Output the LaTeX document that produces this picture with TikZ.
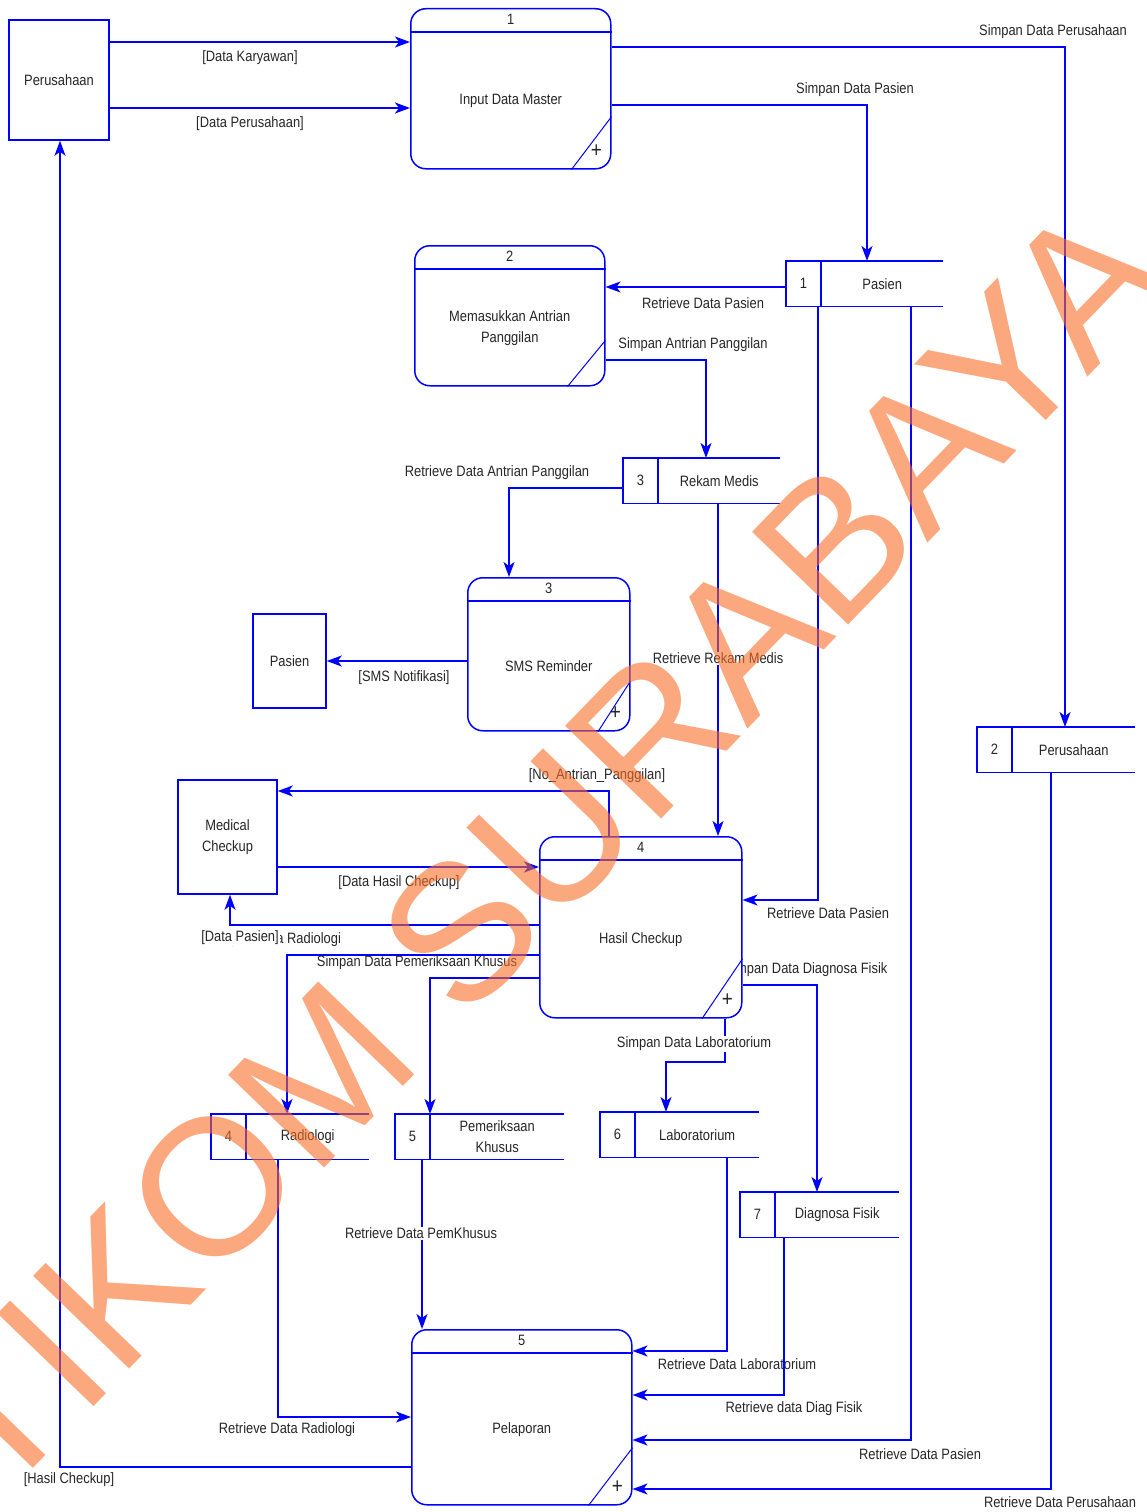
\documentclass[tikz,border=0pt]{standalone}
\usepackage{fontspec}
\setmainfont{Liberation Sans}[FakeStretch=0.86]
\newfontfamily\wmfont{Liberation Sans}
\usetikzlibrary{calc,arrows.meta,backgrounds}
\definecolor{wmorange}{RGB}{248,110,40}

\tikzset{
  dfdline/.style={draw=blue, line width=1.5pt},
  thinline/.style={draw=blue, line width=1pt},
  flow/.style={dfdline, -{Stealth[length=15pt,width=11pt,inset=4pt]}},
  entity/.style={dfdline, fill=white, inner sep=0pt, align=center},
  process/.style={dfdline, fill=white, rounded corners=15pt, inner sep=0pt, anchor=north west},
  store/.style={fill=white, inner sep=0pt, minimum height=45, anchor=north west},
  lbl/.style={inner sep=1pt},
  lblw/.style={fill=white, inner sep=1pt},
}

% name, north west corner, width, height, number, label
\newcommand{\dfdprocess}[6]{%
  \node[process, minimum width=#3, minimum height=#4] (#1) at (#2) {};
  \draw[dfdline] ([yshift=-24]#1.north west) -- ([yshift=-24]#1.north east);
  \node at ([yshift=-11]#1.north) {#5};
  \node[align=center] at ($([yshift=-24]#1.north)!0.5!(#1.south)$) {#6};
  \draw[thinline] ([xshift=-0.2*#3]#1.south east) -- ([yshift=0.33*#4]#1.south east);
}
\newcommand{\dfdplus}[1]{\node[font=\fontsize{22}{22}\selectfont] at ([xshift=-15,yshift=18]#1.south east) {+};}

% [width] name, north west corner, number, label
\newcommand{\dfdstore}[5][158]{%
  \node[store, minimum width=#1] (#2) at (#3) {};
  \draw[dfdline] (#2.north east) -- (#2.north west) -- (#2.south west) -- (#2.south east);
  \draw[dfdline] ([xshift=35]#2.north west) -- ([xshift=35]#2.south west);
  \node at ([xshift=17.5]#2.west) {#4};
  \node[align=center] at ($([xshift=35]#2.west)!0.5!(#2.east)$) {#5};
}

\begin{document}
\begin{tikzpicture}[x=1pt, y=-1pt, every node/.style={font=\fontsize{15}{21}\selectfont, text=black!85}]
		%%%%% START %%%%%
		\useasboundingbox (0,0) rectangle (1147,1512);

		% external entities
		\node[entity, minimum width=100, minimum height=120] (perusahaan) at (59,80) {Perusahaan};
		\node[entity, minimum width=73, minimum height=94] (pasien) at (289.5,661) {Pasien};
		\node[entity, minimum width=99, minimum height=114] (medical) at (227.5,837) {Medical\\Checkup};

		% processes
		\dfdprocess{inputMaster}{410,8}{200}{160}{1}{Input Data Master}
		\dfdplus{inputMaster}
		\dfdprocess{antrian}{414,245}{190}{140}{2}{Memasukkan Antrian\\Panggilan}
		\dfdprocess{smsReminder}{467,577}{162}{153}{3}{SMS Reminder}
		\dfdplus{smsReminder}
		\dfdprocess{hasilCheckup}{539,836}{202}{181}{4}{Hasil Checkup}
		\dfdplus{hasilCheckup}
		\dfdprocess{pelaporan}{411,1329}{220}{175}{5}{Pelaporan}
		\dfdplus{pelaporan}

		% data stores
		\dfdstore[157]{dsPasien}{786,261}{1}{Pasien}
		\dfdstore[157]{dsRekam}{623,458}{3}{Rekam Medis}
		\dfdstore{dsPerusahaan}{977,727}{2}{Perusahaan}
		\dfdstore{dsRadiologi}{211,1114}{4}{Radiologi}
		\dfdstore[169]{dsKhusus}{395,1114}{5}{Pemeriksaan\\Khusus}
		\dfdstore[159]{dsLab}{600,1112}{6}{Laboratorium}
		\dfdstore[159]{dsFisik}{740,1192}{7}{Diagnosa Fisik}

		% data flows
		\begin{pgfonlayer}{background}
		\draw[flow] (perusahaan.east |- 0,42) -- (inputMaster.west |- 0,42) node[lbl] at (250,58) {[Data Karyawan]};
		\draw[flow] (perusahaan.east |- 0,108) -- (inputMaster.west |- 0,108) node[lbl] at (250,124) {[Data Perusahaan]};
		\draw[flow] (inputMaster.east |- 0,47) -| (dsPerusahaan.north -| 1065,0) node[lbl] at (1053,32) {Simpan Data Perusahaan};
		\draw[flow] (inputMaster.east |- 0,105) -| (dsPasien.north -| 867,0) node[lbl] at (855,90) {Simpan Data Pasien};

		\draw[flow] (dsPasien.west |- 0,287) -- (antrian.east |- 0,287) node[lbl] at (703,303) {Retrieve Data Pasien};
		\draw[flow] (antrian.east |- 0,360) -| (dsRekam.north -| 706,0) node[lbl] at (693,345) {Simpan Antrian Panggilan};
		\draw[flow] (dsRekam.west |- 0,488) -| (smsReminder.north -| 509,0) node[lbl] at (497,473) {Retrieve Data Antrian Panggilan};
		\draw[flow] (smsReminder.west |- 0,661) -- (pasien.east |- 0,661) node[lbl] at (404,678) {[SMS Notifikasi]};
		\draw[flow] (dsRekam.south -| 718,0) -- (hasilCheckup.north -| 718,0) node[lblw] at (718,658) {Retrieve Rekam Medis};

		\draw[flow] (hasilCheckup.north -| 609,0) |- (medical.east |- 0,791) node[lbl] at (597,776) {[No\_Antrian\_Panggilan]};
		\draw[flow] (medical.east |- 0,867) -- (hasilCheckup.west |- 0,867) node[lbl] at (399,883) {[Data Hasil Checkup]};
		\draw[flow] (hasilCheckup.west |- 0,955) -| (dsRadiologi.north -| 287,0) node[lbl] at (275,940) {Simpan Data Radiologi};
		\draw[flow] (hasilCheckup.west |- 0,925) -| (medical.south -| 230,0) node[lblw] at (240,938) {[Data Pasien]};
		\draw[flow] (hasilCheckup.west |- 0,978) -| (dsKhusus.north -| 430,0) node[lbl] at (417,963) {Simpan Data Pemeriksaan Khusus};
		\draw[flow] (dsPasien.south -| 818,0) |- (hasilCheckup.east |- 0,900) node[lbl] at (828,913) {Retrieve Data Pasien};
		\draw[flow] (hasilCheckup.east |- 0,985) -| (dsFisik.north -| 817,0) node[lbl] at (806,970) {Simpan Data Diagnosa Fisik};
		\draw[flow] (hasilCheckup.south -| 725,0) -- (725,1062) -| (dsLab.north -| 666,0) node[lblw] at (694,1044) {Simpan Data Laboratorium};

		\draw[flow] (dsKhusus.south -| 422,0) -- (pelaporan.north -| 422,0) node[lblw] at (421,1233) {Retrieve Data PemKhusus};
		\draw[flow] (dsRadiologi.south -| 278,0) |- (pelaporan.west |- 0,1417) node[lbl] at (287,1430) {Retrieve Data Radiologi};
		\draw[flow] (dsLab.south -| 727,0) |- (pelaporan.east |- 0,1351) node[lbl] at (737,1364) {Retrieve Data Laboratorium};
		\draw[flow] (dsFisik.south -| 784,0) |- (pelaporan.east |- 0,1395) node[lbl] at (794,1409) {Retrieve data Diag Fisik};
		\draw[flow] (dsPasien.south -| 911,0) |- (pelaporan.east |- 0,1440) node[lbl] at (920,1454) {Retrieve Data Pasien};
		\draw[flow] (dsPerusahaan.south -| 1051,0) |- (pelaporan.east |- 0,1489) node[lbl] at (1060,1502) {Retrieve Data Perusahaan};
		\draw[flow] (pelaporan.west |- 0,1467) -| (perusahaan.south -| 60,0) node[lbl] at (69,1480) {[Hasil Checkup]};
		\end{pgfonlayer}

		% watermark
		\node[rotate=46, text=wmorange, text opacity=0.6, font=\wmfont\fontsize{194}{194}\selectfont] (watermark) at (495,895) {STIKOM SURABAYA};
		%%%%% END %%%%%
\end{tikzpicture}
\end{document}
